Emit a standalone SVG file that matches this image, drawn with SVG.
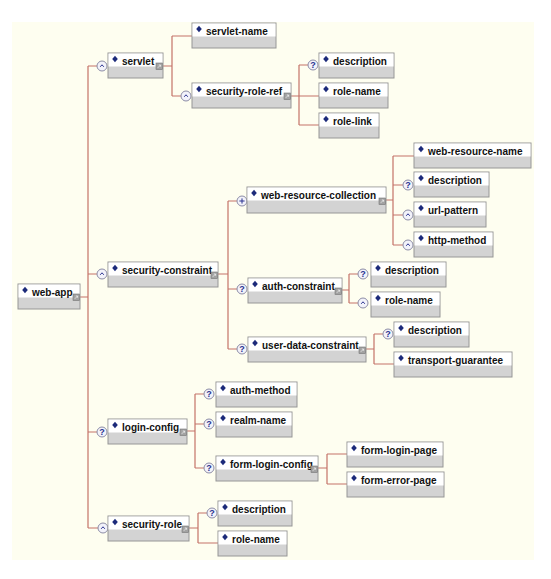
<svg xmlns="http://www.w3.org/2000/svg" width="551" height="579" viewBox="0 0 551 579">
<style>
.bg{fill:#fefef0}
.bx{fill:#d3d3d3;stroke:#969696;stroke-width:1}
.bw{fill:#ffffff}
.t{font-family:"Liberation Sans",Arial,sans-serif;font-weight:bold;font-size:10px;fill:#111}
.c{fill:none;stroke:#c47268;stroke-width:1.2}
.oc{fill:#f2f2fa;stroke:#8c8ca6;stroke-width:1}
.oq{font-family:"Liberation Sans",Arial,sans-serif;font-weight:bold;font-size:9px;fill:#2a3290;text-anchor:middle}
.ms{fill:none;stroke:#2a3290;stroke-width:1}
</style>
<defs>
<g id="q"><circle r="5" class="oc"/><text class="oq" y="3.3">?</text></g>
<g id="m"><circle r="5" class="oc"/><path d="M-1.8,0.8 L0,-1.2 L1.8,0.8" class="ms"/></g>
<g id="p"><circle r="5" class="oc"/><path d="M-2.6,0H2.6M0,-2.6V2.6" class="ms" stroke-width="1.4"/></g>
<path id="d" d="M0,-3.3L2.8,0L0,3.3L-2.8,0Z" fill="#1c2a7a"/>
<g id="x"><rect x="0" y="0" width="6.5" height="6.5" fill="#a2a2a2" stroke="#747474" stroke-width="0.6"/><path d="M1.8,4.8L4.6,2M2.8,2H4.6V3.8" stroke="#ececec" stroke-width="0.8" fill="none"/></g>
</defs>
<rect class="bg" x="12" y="22" width="522" height="538"/>

<g id="connectors">
<path class="c" d="M80,297H88M88,66V528M88,66H97M88,274H97M88,432H97M88,528H98"/>
<path class="c" d="M163,66H172M172,36V96M172,36H192M172,96H181"/>
<path class="c" d="M291,96H299M299,65V125M299,65H308M299,96H319M299,125H319"/>
<path class="c" d="M218,274H228M228,201V349M228,201H237M228,289H237M228,349H237"/>
<path class="c" d="M386,200H393M393,156V245M393,156H414M393,185H403M393,215H403M393,245H403"/>
<path class="c" d="M342,290H349M349,274V303M349,274H358M349,303H358"/>
<path class="c" d="M366,349H374M374,334V364M374,334H383M374,364H394"/>
<path class="c" d="M187,431H195M195,394V468M195,394H204M195,424H204M195,468H204"/>
<path class="c" d="M318,468H327M327,454V484M327,454H347M327,484H347"/>
<path class="c" d="M189,528H198M198,513V543M198,513H207M198,543H218"/>
</g>

<g id="occurrence-icons">
<use href="#m" x="102" y="66"/>
<use href="#m" x="102" y="274"/>
<use href="#q" x="102" y="432"/>
<use href="#m" x="103" y="528"/>
<use href="#m" x="186" y="96"/>
<use href="#q" x="313" y="65"/>
<use href="#p" x="242" y="201"/>
<use href="#q" x="242" y="289"/>
<use href="#q" x="242" y="349"/>
<use href="#q" x="408" y="185"/>
<use href="#m" x="408" y="215"/>
<use href="#m" x="408" y="245"/>
<use href="#q" x="363" y="274"/>
<use href="#m" x="363" y="303"/>
<use href="#q" x="388" y="334"/>
<use href="#q" x="209" y="394"/>
<use href="#q" x="209" y="424"/>
<use href="#q" x="209" y="468"/>
<use href="#q" x="212" y="513"/>
</g>

<g id="n-web-app"><rect class="bx" x="18" y="284" width="62" height="25"/><rect class="bw" x="18.5" y="284.5" width="61" height="13"/><use href="#d" x="25" y="290"/><text class="t" x="32" y="296">web-app</text><use href="#x" x="73" y="294"/></g>
<g id="n-servlet"><rect class="bx" x="108" y="53" width="55" height="25"/><rect class="bw" x="108.5" y="53.5" width="54" height="13"/><use href="#d" x="115" y="59"/><text class="t" x="122" y="65">servlet</text><use href="#x" x="156" y="63"/></g>
<g id="n-servlet-name"><rect class="bx" x="192" y="23" width="84" height="25"/><rect class="bw" x="192.5" y="23.5" width="83" height="13"/><use href="#d" x="199" y="29"/><text class="t" x="206" y="35">servlet-name</text></g>
<g id="n-security-role-ref"><rect class="bx" x="192" y="83" width="99" height="25"/><rect class="bw" x="192.5" y="83.5" width="98" height="13"/><use href="#d" x="199" y="89"/><text class="t" x="206" y="95">security-role-ref</text><use href="#x" x="284" y="93"/></g>
<g id="n-description-1"><rect class="bx" x="319" y="53" width="75" height="25"/><rect class="bw" x="319.5" y="53.5" width="74" height="13"/><use href="#d" x="326" y="59"/><text class="t" x="333" y="65">description</text></g>
<g id="n-role-name-1"><rect class="bx" x="319" y="83" width="69" height="25"/><rect class="bw" x="319.5" y="83.5" width="68" height="13"/><use href="#d" x="326" y="89"/><text class="t" x="333" y="95">role-name</text></g>
<g id="n-role-link"><rect class="bx" x="319" y="113" width="60" height="25"/><rect class="bw" x="319.5" y="113.5" width="59" height="13"/><use href="#d" x="326" y="119"/><text class="t" x="333" y="125">role-link</text></g>

<g id="n-security-constraint"><rect class="bx" x="108" y="262" width="110" height="25"/><rect class="bw" x="108.5" y="262.5" width="109" height="13"/><use href="#d" x="115" y="268"/><text class="t" x="122" y="274">security-constraint</text><use href="#x" x="211" y="272"/></g>
<g id="n-web-resource-collection"><rect class="bx" x="247" y="187" width="139" height="26"/><rect class="bw" x="247.5" y="187.5" width="138" height="13"/><use href="#d" x="254" y="193"/><text class="t" x="261" y="199">web-resource-collection</text><use href="#x" x="379" y="198"/></g>
<g id="n-web-resource-name"><rect class="bx" x="414" y="143" width="117" height="25"/><rect class="bw" x="414.5" y="143.5" width="116" height="13"/><use href="#d" x="421" y="149"/><text class="t" x="428" y="155">web-resource-name</text></g>
<g id="n-description-2"><rect class="bx" x="414" y="172" width="75" height="25"/><rect class="bw" x="414.5" y="172.5" width="74" height="13"/><use href="#d" x="421" y="178"/><text class="t" x="428" y="184">description</text></g>
<g id="n-url-pattern"><rect class="bx" x="414" y="202" width="72" height="25"/><rect class="bw" x="414.5" y="202.5" width="71" height="13"/><use href="#d" x="421" y="208"/><text class="t" x="428" y="214">url-pattern</text></g>
<g id="n-http-method"><rect class="bx" x="414" y="232" width="79" height="25"/><rect class="bw" x="414.5" y="232.5" width="78" height="13"/><use href="#d" x="421" y="238"/><text class="t" x="428" y="244">http-method</text></g>
<g id="n-auth-constraint"><rect class="bx" x="248" y="278" width="94" height="25"/><rect class="bw" x="248.5" y="278.5" width="93" height="13"/><use href="#d" x="255" y="284"/><text class="t" x="262" y="290">auth-constraint</text><use href="#x" x="335" y="288"/></g>
<g id="n-description-3"><rect class="bx" x="371" y="262" width="75" height="25"/><rect class="bw" x="371.5" y="262.5" width="74" height="13"/><use href="#d" x="378" y="268"/><text class="t" x="385" y="274">description</text></g>
<g id="n-role-name-2"><rect class="bx" x="371" y="292" width="69" height="25"/><rect class="bw" x="371.5" y="292.5" width="68" height="13"/><use href="#d" x="378" y="298"/><text class="t" x="385" y="304">role-name</text></g>
<g id="n-user-data-constraint"><rect class="bx" x="248" y="337" width="118" height="25"/><rect class="bw" x="248.5" y="337.5" width="117" height="13"/><use href="#d" x="255" y="343"/><text class="t" x="262" y="349">user-data-constraint</text><use href="#x" x="359" y="347"/></g>
<g id="n-description-4"><rect class="bx" x="394" y="322" width="75" height="25"/><rect class="bw" x="394.5" y="322.5" width="74" height="13"/><use href="#d" x="401" y="328"/><text class="t" x="408" y="334">description</text></g>
<g id="n-transport-guarantee"><rect class="bx" x="394" y="352" width="118" height="25"/><rect class="bw" x="394.5" y="352.5" width="117" height="13"/><use href="#d" x="401" y="358"/><text class="t" x="408" y="364">transport-guarantee</text></g>

<g id="n-login-config"><rect class="bx" x="108" y="419" width="79" height="25"/><rect class="bw" x="108.5" y="419.5" width="78" height="13"/><use href="#d" x="115" y="425"/><text class="t" x="122" y="431">login-config</text><use href="#x" x="180" y="429"/></g>
<g id="n-auth-method"><rect class="bx" x="216" y="382" width="81" height="25"/><rect class="bw" x="216.5" y="382.5" width="80" height="13"/><use href="#d" x="223" y="388"/><text class="t" x="230" y="394">auth-method</text></g>
<g id="n-realm-name"><rect class="bx" x="216" y="412" width="76" height="25"/><rect class="bw" x="216.5" y="412.5" width="75" height="13"/><use href="#d" x="223" y="418"/><text class="t" x="230" y="424">realm-name</text></g>
<g id="n-form-login-config"><rect class="bx" x="216" y="456" width="102" height="25"/><rect class="bw" x="216.5" y="456.5" width="101" height="13"/><use href="#d" x="223" y="462"/><text class="t" x="230" y="468">form-login-config</text><use href="#x" x="311" y="466"/></g>
<g id="n-form-login-page"><rect class="bx" x="347" y="442" width="96" height="25"/><rect class="bw" x="347.5" y="442.5" width="95" height="13"/><use href="#d" x="354" y="448"/><text class="t" x="361" y="454">form-login-page</text></g>
<g id="n-form-error-page"><rect class="bx" x="347" y="472" width="97" height="25"/><rect class="bw" x="347.5" y="472.5" width="96" height="13"/><use href="#d" x="354" y="478"/><text class="t" x="361" y="484">form-error-page</text></g>

<g id="n-security-role"><rect class="bx" x="108" y="516" width="81" height="25"/><rect class="bw" x="108.5" y="516.5" width="80" height="13"/><use href="#d" x="115" y="522"/><text class="t" x="122" y="528">security-role</text><use href="#x" x="182" y="526"/></g>
<g id="n-description-5"><rect class="bx" x="218" y="501" width="74" height="25"/><rect class="bw" x="218.5" y="501.5" width="73" height="13"/><use href="#d" x="225" y="507"/><text class="t" x="232" y="513">description</text></g>
<g id="n-role-name-3"><rect class="bx" x="218" y="531" width="69" height="25"/><rect class="bw" x="218.5" y="531.5" width="68" height="13"/><use href="#d" x="225" y="537"/><text class="t" x="232" y="543">role-name</text></g>
</svg>
